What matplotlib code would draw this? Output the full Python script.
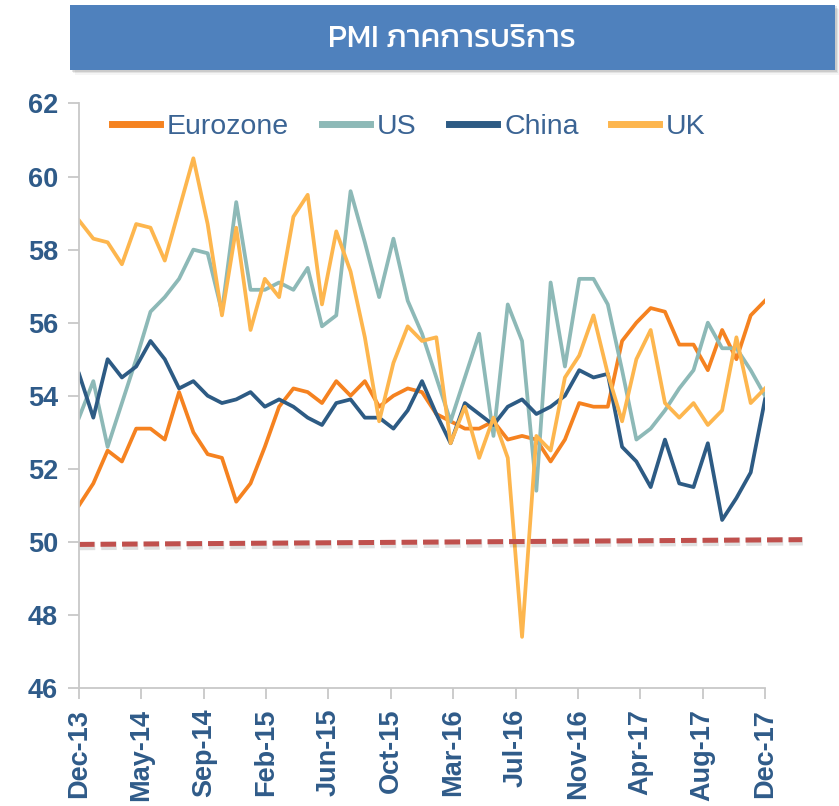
import matplotlib
matplotlib.use('Agg')
import matplotlib.pyplot as plt
import matplotlib.patheffects as pe
from matplotlib.patches import Rectangle
from matplotlib import font_manager
import numpy as np

tick_labels = ['Dec-13', 'May-14', 'Sep-14', 'Feb-15', 'Jun-15', 'Oct-15',
               'Mar-16', 'Jul-16', 'Nov-16', 'Apr-17', 'Aug-17', 'Dec-17']

eurozone = [51.0, 51.6, 52.5, 52.2, 53.1, 53.1, 52.8, 54.1, 53.0, 52.4, 52.3, 51.1,
            51.6, 52.6, 53.7, 54.2, 54.1, 53.8, 54.4, 54.0, 54.4, 53.7, 54.0, 54.2,
            54.1, 53.5, 53.3, 53.1, 53.1, 53.3, 52.8, 52.9, 52.8, 52.2, 52.8, 53.8,
            53.7, 53.7, 55.5, 56.0, 56.4, 56.3, 55.4, 55.4, 54.7, 55.8, 55.0, 56.2, 56.6]
us = [53.4, 54.4, 52.6, 53.8, 55.0, 56.3, 56.7, 57.2, 58.0, 57.9, 56.3, 59.3,
      56.9, 56.9, 57.1, 56.9, 57.5, 55.9, 56.2, 59.6, 58.2, 56.7, 58.3, 56.6,
      55.7, 54.5, 53.3, 54.5, 55.7, 52.9, 56.5, 55.5, 51.4, 57.1, 54.8, 57.2,
      57.2, 56.5, 54.7, 52.8, 53.1, 53.6, 54.2, 54.7, 56.0, 55.3, 55.3, 54.7, 54.0]
china = [54.6, 53.4, 55.0, 54.5, 54.8, 55.5, 55.0, 54.2, 54.4, 54.0, 53.8, 53.9,
         54.1, 53.7, 53.9, 53.7, 53.4, 53.2, 53.8, 53.9, 53.4, 53.4, 53.1, 53.6,
         54.4, 53.5, 52.7, 53.8, 53.5, 53.2, 53.7, 53.9, 53.5, 53.7, 54.0, 54.7,
         54.5, 54.6, 52.6, 52.2, 51.5, 52.8, 51.6, 51.5, 52.7, 50.6, 51.2, 51.9, 53.9]
uk = [58.8, 58.3, 58.2, 57.6, 58.7, 58.6, 57.7, 59.1, 60.5, 58.7, 56.2, 58.6,
      55.8, 57.2, 56.7, 58.9, 59.5, 56.5, 58.5, 57.4, 55.6, 53.3, 54.9, 55.9,
      55.5, 55.6, 52.7, 53.7, 52.3, 53.4, 52.3, 47.4, 52.9, 52.5, 54.5, 55.1,
      56.2, 54.6, 53.3, 55.0, 55.8, 53.8, 53.4, 53.8, 53.2, 53.6, 55.6, 53.8, 54.2]

# pick an installed font that has Thai glyphs (Kanit if there)
def thai_font():
    from fontTools.ttLib import TTFont
    found = []
    for path in font_manager.findSystemFonts():
        try:
            f = TTFont(path, fontNumber=0, lazy=True)
            if 0x0E20 in f.getBestCmap():
                found.append(path)
        except Exception:
            pass
    for name in ['Kanit-Regular', 'IBMPlexSansThai-Regular', 'Regular']:
        for p in found:
            if name in p:
                return p
    return found[0] if found else None

thai = thai_font()

plt.rcParams['font.family'] = 'Liberation Sans'
label_color = '#2F5B89'

fig = plt.figure(figsize=(8.39, 8.06), dpi=100)
ax = fig.add_axes([0.0942, 0.1464, 0.8176, 0.7252])

x = np.arange(len(eurozone))
ax.plot(x, eurozone, color='#F58220', lw=2.7, label='Eurozone')
ax.plot(x, us, color='#8DB9B7', lw=2.7, label='US')
ax.plot(x, china, color='#2D5B84', lw=2.7, label='China')
ax.plot(x, uk, color='#FDB64E', lw=2.7, label='UK')

# 50 line
ax.plot([0, 50.6], [49.93, 50.06], color='#C0504D', lw=3.6,
        linestyle=(0, (3.1, 1.2)), clip_on=False,
        path_effects=[pe.SimpleLineShadow(offset=(0.5, -1.2), alpha=0.12,
                                          linewidth=6),
                      pe.Normal()])

ax.set_xlim(0, 48)
ax.set_ylim(46, 62)
ax.set_yticks(np.arange(46, 63, 2))
ax.set_xticks(np.linspace(0, 48, len(tick_labels)))
ax.set_xticklabels(tick_labels, rotation=90)
for s in ['top', 'right']:
    ax.spines[s].set_visible(False)
for s in ['left', 'bottom']:
    ax.spines[s].set_color('#C8C8C8')
    ax.spines[s].set_linewidth(1.3)
ax.tick_params(axis='both', colors='#C8C8C8', width=1.3, length=8,
               labelcolor=label_color, labelsize=19.5, pad=7)
for t in ax.get_xticklabels() + ax.get_yticklabels():
    t.set_fontweight('bold')

leg = ax.legend(ncol=4, loc='center left', bbox_to_anchor=(0.048, 0.96),
                frameon=False, fontsize=20.5, handlelength=1.68,
                handletextpad=0.25, columnspacing=1.15, borderpad=0,
                borderaxespad=0)
for t in leg.get_texts():
    t.set_color('#3B6494')
for h in leg.get_lines():
    h.set_linewidth(5)

# title banner
for i, a in enumerate([0.10, 0.07, 0.04]):
    d = (i + 1) * 1.5
    fig.patches.append(Rectangle(((70 + d) / 839, 1 - (70 + d) / 806), 765 / 839, 65 / 806,
                                 transform=fig.transFigure, color='black', alpha=a, lw=0))
fig.patches.append(Rectangle((70 / 839, 1 - 70 / 806), 765 / 839, 65 / 806,
                             transform=fig.transFigure, color='#4F81BD', lw=0))
if thai:
    font_manager.fontManager.addfont(thai)
    title_family = [font_manager.FontProperties(fname=thai).get_name(), 'DejaVu Sans']
else:
    title_family = ['DejaVu Sans']
fig.text(0.539, 0.951, 'PMI ภาคการบริการ', color='white', fontsize=23,
         ha='center', va='center', family=title_family)

fig.savefig('out.png', dpi=100)
